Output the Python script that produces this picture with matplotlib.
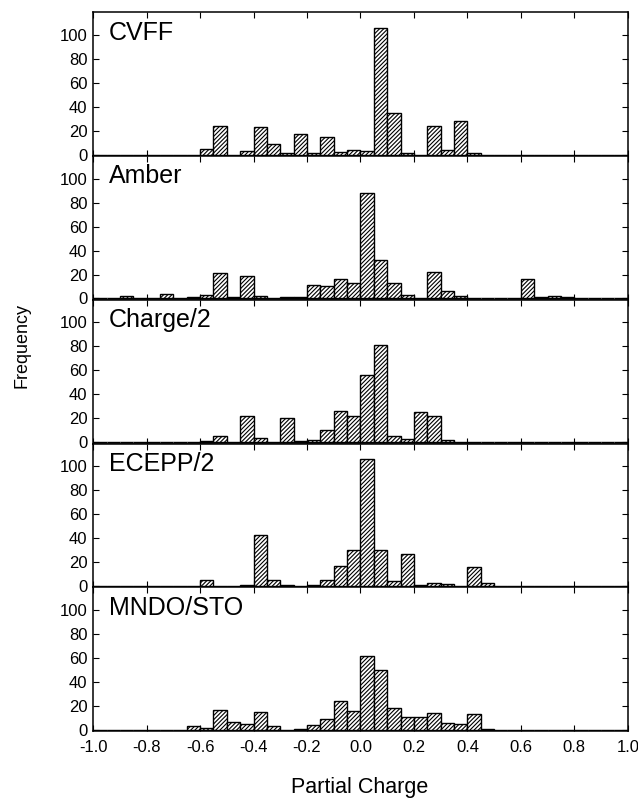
import numpy as np
import matplotlib
matplotlib.use("Agg")
from matplotlib import pyplot as plt

# histogram bins: width 0.05 from -1.0 to 1.0 (40 bins)
bin_edges = np.linspace(-1.0, 1.0, 41)

# counts, one list per force field (bin index 0 = [-1.0,-0.95))
cvff = [0, 0, 0, 0, 0, 0, 0, 0, 5, 24,
        0, 3, 23, 9, 1, 17, 1, 15, 2, 4,
        3, 106, 35, 1, 0, 24, 4, 28, 1, 0,
        0, 0, 0, 0, 0, 0, 0, 0, 0, 0]
amber = [0, 0, 2, 0, 0, 4, 0, 1, 3, 21,
         1, 19, 2, 0, 1, 1, 11, 10, 16, 13,
         88, 32, 13, 3, 0, 22, 6, 2, 0, 0,
         0, 0, 16, 1, 2, 1, 0, 0, 0, 0]
charge2 = [0, 0, 0, 0, 0, 0, 0, 0, 1, 5,
           0, 22, 4, 0, 20, 1, 2, 10, 26, 22,
           56, 81, 5, 3, 25, 22, 2, 0, 0, 0,
           0, 0, 0, 0, 0, 0, 0, 0, 0, 0]
ecepp2 = [0, 0, 0, 0, 0, 0, 0, 0, 5, 0,
          0, 1, 43, 5, 1, 0, 1, 5, 17, 30,
          106, 30, 4, 27, 1, 3, 2, 0, 16, 3,
          0, 0, 0, 0, 0, 0, 0, 0, 0, 0]
mndo = [0, 0, 0, 0, 0, 0, 0, 3, 2, 17,
        7, 5, 15, 3, 0, 1, 4, 9, 24, 16,
        62, 50, 18, 11, 11, 14, 6, 5, 13, 1,
        0, 0, 0, 0, 0, 0, 0, 0, 0, 0]

nomes = ["CVFF", "Amber", "Charge/2", "ECEPP/2", "MNDO/STO"]
series = [cvff, amber, charge2, ecepp2, mndo]

xticks = [-1.0, -0.8, -0.6, -0.4, -0.2, 0.0, 0.2, 0.4, 0.6, 0.8, 1.0]
xticklabels = ["-1.0", "-0.8", "-0.6", "-0.4", "-0.2", "0.0", "0.2", "0.4", "0.6", "0.8", "1.0"]
yticks = [0, 20, 40, 60, 80, 100]

plt.rcParams['font.family'] = ['Liberation Sans', 'DejaVu Sans']
plt.rcParams['hatch.linewidth'] = 0.8

fig, axs = plt.subplots(5, 1, figsize=(6.38, 8.0), dpi=100, sharex=True)
fig.subplots_adjust(left=0.146, right=0.984, top=0.985, bottom=0.086, hspace=0)

larg = np.diff(bin_edges)
for ax, nome, vals in zip(axs, nomes, series):
    ax.bar(bin_edges[:-1], vals, width=larg, align='edge', color='white',
           edgecolor='black', linewidth=1.0, hatch='////////')
    ax.set_xlim(-1.0, 1.0)
    ax.set_ylim(-1, 119)
    ax.set_yticks(yticks)
    ax.set_xticks(xticks)
    ax.tick_params(direction='in', length=4, width=0.8, labelsize=12,
                   top=True, right=True, pad=4)
    for s in ax.spines.values():
        s.set_linewidth(1.1)
    ax.text(0.03, 0.94, nome, transform=ax.transAxes, fontsize=18, va='top', ha='left')

axs[-1].set_xticklabels(xticklabels)
axs[-1].tick_params(axis='x', pad=6)

fig.text(0.035, 1 - 345 / 800, "Frequency", rotation=90, fontsize=13, ha='center', va='center')
fig.text(0.563, 1 - 788 / 800, "Partial Charge", fontsize=15.5, ha='center', va='center')

plt.savefig("out.png", dpi=100)
